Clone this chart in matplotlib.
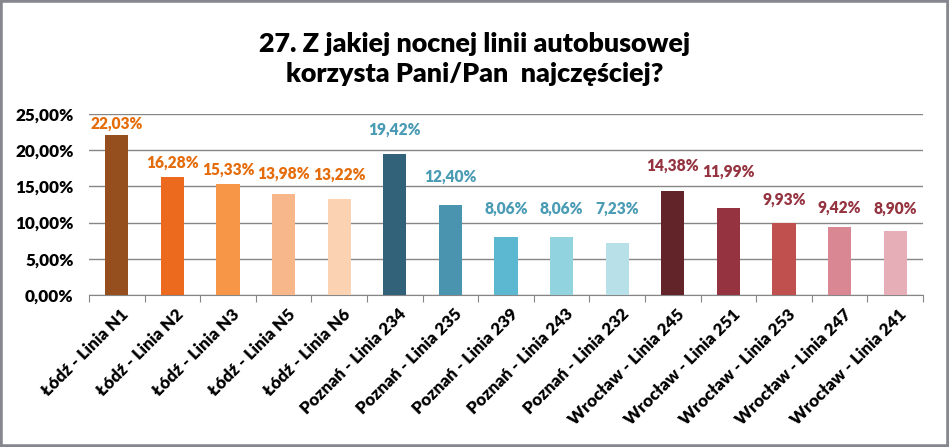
import matplotlib.pyplot as plt
from matplotlib.patches import Rectangle
from matplotlib.ticker import FuncFormatter, MultipleLocator

# dane
categories = ["Łódź - Linia N1", "Łódź - Linia N2", "Łódź - Linia N3", "Łódź - Linia N5", "Łódź - Linia N6",
              "Poznań - Linia 234", "Poznań - Linia 235", "Poznań - Linia 239", "Poznań - Linia 243", "Poznań - Linia 232",
              "Wrocław - Linia 245", "Wrocław - Linia 251", "Wrocław - Linia 253", "Wrocław - Linia 247", "Wrocław - Linia 241"]
values = [22.03, 16.28, 15.33, 13.98, 13.22,
          19.42, 12.40, 8.06, 8.06, 7.23,
          14.38, 11.99, 9.93, 9.42, 8.90]

bar_colors = ["#954F1F", "#EC6A1E", "#F79646", "#F8B78A", "#FBD3B3",
              "#31627A", "#4A94B0", "#5BB8D0", "#92D3E0", "#B7E0E8",
              "#632429", "#953340", "#C0504D", "#D98893", "#E6AFB8"]
label_colors = ["#E46C0A"] * 5 + ["#4A9BB4"] * 5 + ["#953340"] * 5
# przesunięcie etykiet nad słupkiem (piksele, jak w oryginale)
label_gap = [12, 14, 14, 20, 25, 25, 29, 28, 28, 34, 25, 37, 23, 19, 22]

plt.rcParams['font.family'] = ['Lato', 'DejaVu Sans']

fig = plt.figure(figsize=(9.49, 4.47), dpi=100)
ax = fig.add_axes([0.0938, 0.340, 0.8788, 0.405])

x = range(len(values))
ax.bar(x, values, width=0.42, color=bar_colors, zorder=3)

for i, v in enumerate(values):
    ax.annotate(f"{v:.2f}%".replace(".", ","), (i, v), xytext=(0, label_gap[i] * 0.72),
                textcoords="offset points", ha="center", va="center",
                fontsize=11.2, fontweight="heavy", color=label_colors[i])

ax.set_xlim(-0.5, len(values) - 0.5)
ax.set_ylim(0, 25)
ax.yaxis.set_major_locator(MultipleLocator(5))
ax.yaxis.set_major_formatter(FuncFormatter(lambda v, p: f"{v:.2f}%".replace(".", ",")))
ax.grid(axis="y", color="#868686", linewidth=1, zorder=0)
ax.tick_params(axis="y", length=0, labelsize=12.3, pad=11)
for t in ax.get_yticklabels():
    t.set_fontweight("heavy")

ax.set_xticks([i - 0.5 for i in range(len(values) + 1)], minor=False)
ax.set_xticklabels([])
ax.tick_params(axis="x", direction="out", length=5, color="#868686")
for i, c in enumerate(categories):
    ax.annotate(c, (i, 0), xytext=(6.5, -12), textcoords="offset points",
                rotation=45, rotation_mode="anchor", ha="right", va="center",
                fontsize=12.3, fontweight="heavy")

for s in ["top", "right", "left"]:
    ax.spines[s].set_visible(False)
ax.spines["bottom"].set_color("#868686")

fig.text(0.5, 0.868, "27. Z jakiej nocnej linii autobusowej\nkorzysta Pani/Pan  najczęściej?",
         ha="center", va="center", fontsize=19.4, fontweight="heavy", linespacing=1.3)

fig.patches.append(Rectangle((0, 0), 1, 1, transform=fig.transFigure, fill=False,
                             edgecolor="#86868E", linewidth=4))

fig.savefig("out.png", dpi=100)
